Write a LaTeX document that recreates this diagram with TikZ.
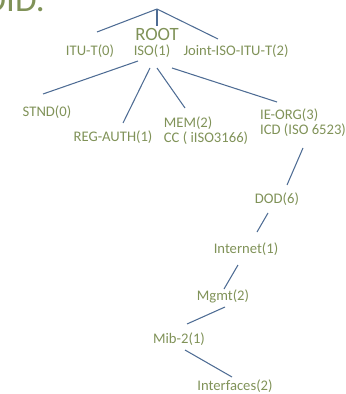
\documentclass[tikz,border=0pt]{standalone}
\usepackage{fontspec}
\setmainfont{Carlito}
\usepackage{tikz}
\definecolor{oidtext}{RGB}{128,146,88}
\definecolor{oidline}{RGB}{78,108,148}
\tikzstyle{oid}=[inner sep=1pt,text=oidtext,font=\fontsize{12.5}{13}\selectfont,align=left]
\tikzstyle{link}=[draw=oidline,line width=0.9pt]

\begin{document}
\begin{tikzpicture}[x=0.03cm,y=-0.03cm]
  \useasboundingbox (0,0) rectangle (346,394);

  \node[anchor=base east,inner sep=0pt,text=oidtext,font=\fontsize{30}{30}\selectfont] (title) at (45,12) {OID.};

  \coordinate (top) at (157,9);
  \node[oid,font=\fontsize{16}{16}\selectfont] (root) at (157,34) {ROOT};
  \node[oid] (itu) at (90,51) {ITU-T(0)};
  \node[oid] (iso) at (152,51) {ISO(1)};
  \node[oid] (joint) at (236,51) {Joint-ISO-ITU-T(2)};
  \node[oid] (stnd) at (47,112) {STND(0)};
  \node[oid] (reg) at (113,137) {REG-AUTH(1)};
  \node[oid] (mem) at (206,131) {MEM(2)\\CC ( iISO3166)};
  \node[oid] (ieorg) at (303,123) {IE-ORG(3)\\ICD (ISO 6523)};
  \node[oid] (dod) at (277,199) {DOD(6)};
  \node[oid] (inet) at (246,249) {Internet(1)};
  \node[oid] (mgmt) at (223,296) {Mgmt(2)};
  \node[oid] (mib) at (179,339) {Mib-2(1)};
  \node[oid] (ifaces) at (235,386) {Interfaces(2)};

  \draw[link] (top)--([shift={(7,-19)}]itu.center);
  \draw[link] (top)--(root.north);
  \draw[link] (top)--([shift={(-18,-12)}]joint.center);
  %
  \draw[link] ([shift={(-14,10)}]iso.center)--([shift={(-4,-18)}]stnd.center);
  \draw[link] ([shift={(-2,17)}]iso.center)--([shift={(10,-14)}]reg.center);
  \draw[link] ([shift={(5,17)}]iso.center)--([shift={(-21,-23)}]mem.center);
  \draw[link] ([shift={(20,17)}]iso.center)--([shift={(-26,-21)}]ieorg.center);
  %
  \draw[link] ([shift={(0,25)}]ieorg.center)--([shift={(10,-14)}]dod.center);
  \draw[link] ([shift={(-9,14)}]dod.center)--([shift={(11,-17)}]inet.center);
  \draw[link] ([shift={(-8,16)}]inet.center)--([shift={(1,-7)}]mgmt.center);
  \draw[link] ([shift={(2,11)}]mgmt.center)--([shift={(8,-15)}]mib.center);
  \draw[link] ([shift={(6,11)}]mib.center)--([shift={(-3,-9)}]ifaces.center);

\end{tikzpicture}
\end{document}
